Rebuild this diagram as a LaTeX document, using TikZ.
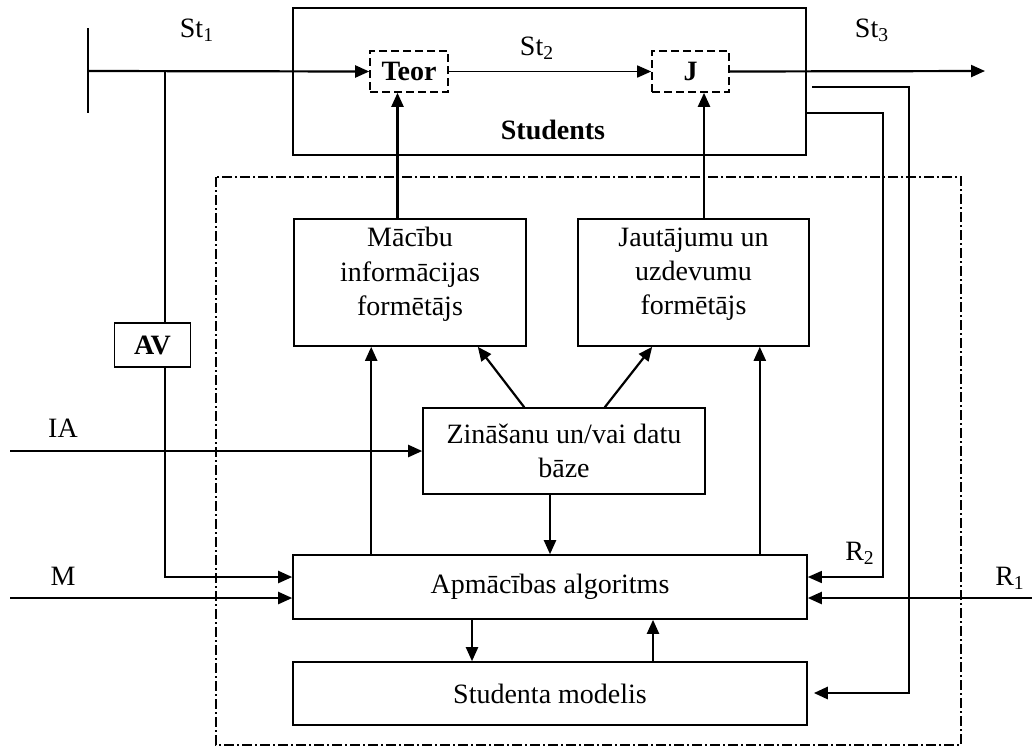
\documentclass[tikz,border=0pt]{standalone}
\usepackage{fontspec}
\setmainfont{Liberation Serif}
\usetikzlibrary{arrows.meta}
\usetikzlibrary{positioning}

\begin{document}
\fontsize{14}{17.2}\selectfont
\begin{tikzpicture}[x=0.5pt,y=-0.5pt,
    box/.style={draw,line width=0.8pt,inner sep=0pt,align=center},
    dbox/.style={box,dash pattern=on 4pt off 2pt,font=\bfseries},
    arr/.style={line width=1.1pt,-{Triangle[length=7pt,width=6pt]}}]
  \useasboundingbox (0,0) rectangle (1032,746);

  \node[box,minimum width=256.5pt,minimum height=73.5pt] (students) at (549.5,81.5) {};
  \node[font=\bfseries] (stname) at (553,130) {Students};
  \node[dbox,minimum width=39pt,minimum height=20.5pt] (teor) at (409,71.5) {Teor};
  \node[dbox,minimum width=38.5pt,minimum height=20.5pt] (j) at (690.5,71.5) {J};

  \draw[dash pattern=on 5pt off 1.5pt on 1pt off 1.5pt,line width=0.6pt] (216,177) rectangle (961,745);

  \node[box,minimum width=116pt,minimum height=63.5pt] (macibu) at (410,282.5) {Mācību\\informācijas\\formētājs\\[-6pt]};
  \node[box,minimum width=115.5pt,minimum height=63.5pt] (jaut) at (693.5,282.5) {Jautājumu un\\uzdevumu\\formētājs\\[-6pt]};
  \node[box,minimum width=141pt,minimum height=43pt] (zin) at (564,451) {Zināšanu un/vai datu\\bāze};
  \node[box,minimum width=257pt,minimum height=32pt] (apm) at (550,587) {Apmācības algoritms};
  \node[box,minimum width=257pt,minimum height=31.5pt] (model) at (550,693.5) {Studenta modelis};
  \node[box,minimum width=38pt,minimum height=22pt,font=\bfseries] (av) at (152.5,345) {AV};

  \node (st1) at (197,30) {St\textsubscript{1}};
  \node (st2) at (537,48) {St\textsubscript{2}};
  \node (st3) at (872,30) {St\textsubscript{3}};
  \node (ia) at (63,428) {IA};
  \node (m) at (63,576) {M};
  \node (r2) at (860,553) {R\textsubscript{2}};
  \node (r1) at (1010,578) {R\textsubscript{1}};

  \coordinate (barT) at (88,28);
  \coordinate (barB) at (88,113);
  \coordinate (st1in) at (88,71);
  \coordinate (avtop) at (165,71);
  \coordinate (avin) at (165,577);
  \coordinate (iain) at (10,451);
  \coordinate (min) at (10,598);
  \coordinate (st3out) at (985,71);
  \coordinate (fbstart) at (812,87);
  \coordinate (fbcorner) at (909,693);
  \coordinate (r2corner) at (883,113);
  \coordinate (r1in) at (1032,598);

  \draw[line width=1pt] (barT) -- (barB);
  \draw[arr] (st1in) -- (teor.west);
  \draw[arr,line width=0.8pt] (teor.east) -- (j.west);
  \draw[arr] (j.east) -- (st3out);
  \draw[line width=0.8pt] (avtop) -- (avtop |- av.north);
  \draw[arr] (av.south -| avtop) -- (avin) -- (avin -| apm.west);
  \draw[arr] (iain) -- (zin.west);
  \draw[arr] (min) -- (min -| apm.west);
  \draw[arr,line width=1.4pt] (fbstart) -| (fbcorner) -- ([xshift=3pt]fbcorner -| model.east);
  \draw[arr,line width=0.7pt] (r2corner -| students.east) -- (r2corner) |- ([yshift=5pt]apm.east);
  \draw[arr] (r1in) -- (r1in -| apm.east);

  \coordinate (mt) at ([xshift=-6.25pt]macibu.north);
  \draw[arr] (mt) -- (mt |- teor.south);
  \coordinate (jt) at ([xshift=5.25pt]jaut.north);
  \draw[arr] (jt) -- (jt |- j.south);
  \coordinate (am) at ([xshift=39.5pt]apm.north west);
  \draw[arr] (am) -- (am |- macibu.south);
  \coordinate (aj) at ([xshift=-24pt]apm.north east);
  \draw[arr] (aj) -- (aj |- jaut.south);
  \draw[arr] (zin.south -| apm.north) -- (apm.north);
  \draw[arr] ([xshift=51pt]zin.north west) -- ([xshift=-24.5pt]macibu.south east);
  \draw[arr] ([xshift=-50.5pt]zin.north east) -- ([xshift=37.5pt]jaut.south west);
  \coordinate (ad) at ([xshift=-39pt]apm.south);
  \draw[arr] (ad) -- (ad |- model.north);
  \coordinate (du) at ([xshift=51.5pt]model.north);
  \draw[arr] (du) -- (du |- apm.south);
\end{tikzpicture}
\end{document}
